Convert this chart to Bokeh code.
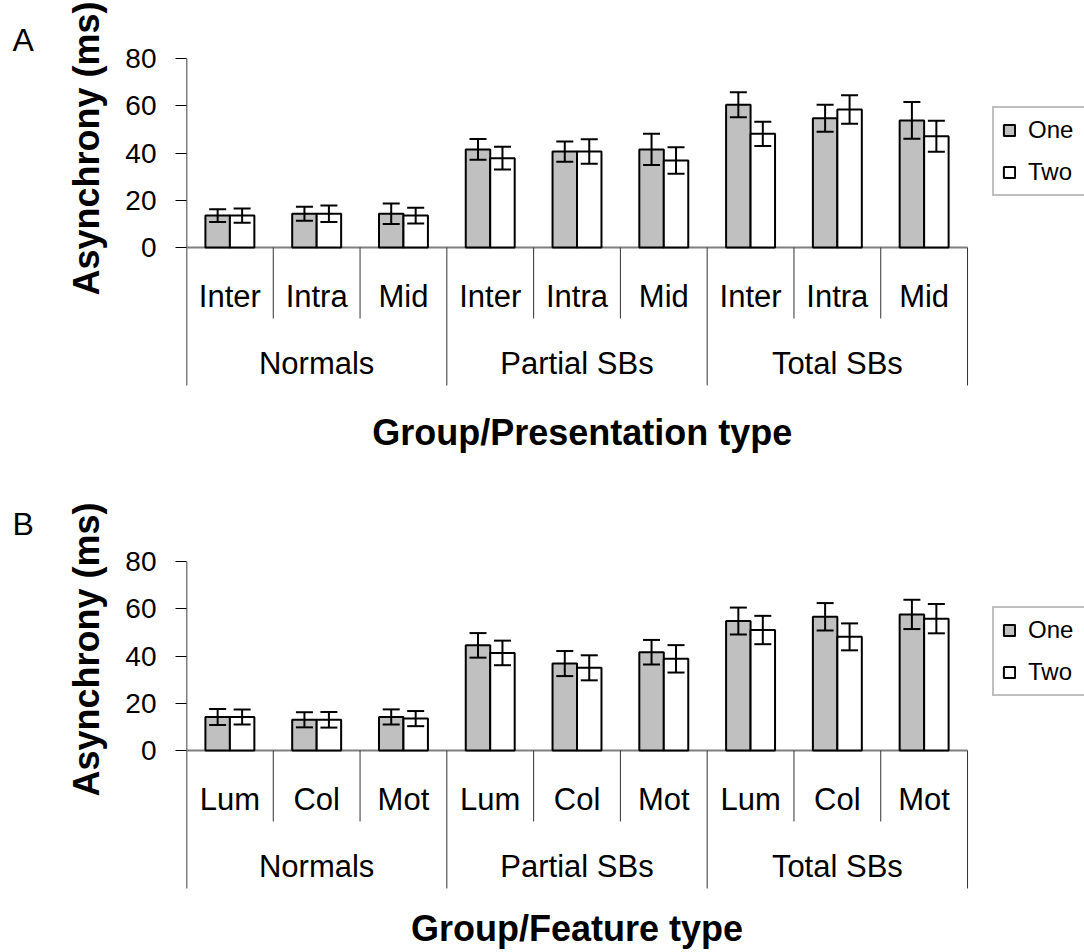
from bokeh.plotting import figure
from bokeh.models import (ColumnDataSource, Range1d, FixedTicker, Whisker, TeeHead,
                          Legend, LegendItem)
from bokeh.layouts import column, row
from bokeh.embed import file_html
from bokeh.resources import INLINE
from bokeh.core.properties import value

# ---------------- data ----------------
groups = ["Normals", "Partial SBs", "Total SBs"]
y_ticks = [0, 20, 40, 60, 80]
series_names = ["One", "Two"]
y_title = "Asynchrony (ms)"

a_types = ["Inter", "Intra", "Mid"]
a_one = [13.5, 14.3, 14.3, 41.5, 40.6, 41.5, 60.4, 54.7, 53.8]
a_one_err = [2.7, 3.0, 4.3, 4.4, 4.3, 6.6, 5.3, 5.7, 7.8]
a_two = [13.5, 14.3, 13.5, 37.8, 40.6, 36.8, 48.1, 58.4, 47.1]
a_two_err = [3.0, 3.5, 3.3, 4.8, 5.2, 5.6, 5.1, 6.0, 6.6]

b_types = ["Lum", "Col", "Mot"]
b_one = [14.2, 13.0, 14.2, 44.5, 36.8, 41.6, 54.8, 56.6, 57.6]
b_one_err = [3.4, 3.2, 3.2, 5.2, 5.3, 5.2, 5.7, 5.8, 6.2]
b_two = [14.2, 13.0, 13.5, 41.3, 35.0, 38.8, 51.0, 48.1, 55.8]
b_two_err = [3.2, 3.3, 3.2, 5.2, 5.3, 5.8, 6.0, 5.7, 6.2]

# ---------------- style / geometry ----------------
FONT = "Liberation Sans"
W, H = 1084, 952
PANEL_H = 476
LEFT_W = 120          # strip holding panel letters and y titles
AXIS_X = 186          # page x of the y axis
UNIT = 86.78          # px per category
SCALE = 2.3625        # px per ms
Y_MAX_AX = 80
Y_MIN_AX = -58.4      # bottom of the group separators
BAR_W = 0.282
OFF = 0.141


def panel(types, one, one_err, two, two_err, xtitle, zero_y, title_x, title_y, legend_bottom):
    # zero_y: pixel row of the value 0 inside this panel figure
    y_top = zero_y / SCALE
    y_bot = -(PANEL_H - zero_y) / SCALE
    p = figure(width=W - LEFT_W, height=PANEL_H, output_backend="svg", toolbar_location=None,
               x_range=Range1d(0, (W - AXIS_X) / UNIT), y_range=Range1d(y_bot, y_top),
               min_border_left=AXIS_X - LEFT_W, min_border_right=0,
               min_border_top=0, min_border_bottom=0, x_axis_location=None)
    p.grid.visible = False
    p.outline_line_color = None
    p.background_fill_color = "white"
    p.border_fill_color = "white"

    ax = p.yaxis[0]
    ax.ticker = FixedTicker(ticks=y_ticks)
    ax.minor_tick_line_color = None
    ax.major_tick_in = 0
    ax.major_tick_out = 11
    ax.major_tick_line_color = "black"
    ax.axis_line_color = None
    ax.major_label_text_font = FONT
    ax.major_label_text_font_size = "28px"
    ax.major_label_text_color = "black"
    ax.major_label_standoff = 19

    n_sub = len(types)
    n = len(groups) * n_sub
    centers = [i + 0.5 for i in range(n)]
    subs = [types[i % n_sub] for i in range(n)]
    gcenters = [g * n_sub + n_sub / 2 for g in range(len(groups))]

    # axis line (value axis) running down through the category area
    p.segment(x0=[0], y0=[Y_MAX_AX], x1=[0], y1=[Y_MIN_AX], line_color="black", line_width=1.5)
    # baseline
    p.segment(x0=[0], y0=[0], x1=[n], y1=[0], line_color="#7f7f7f", line_width=2)
    # separators below the axis
    xs = list(range(1, n + 1))
    y_end = [Y_MIN_AX if k % n_sub == 0 else -30.05 for k in xs]
    p.segment(x0=xs, y0=[0] * len(xs), x1=xs, y1=y_end, line_color="#333333", line_width=1)

    src = ColumnDataSource(dict(
        x1=[c - OFF for c in centers], x2=[c + OFF for c in centers],
        one=one, two=two,
        one_lo=[v - e for v, e in zip(one, one_err)], one_hi=[v + e for v, e in zip(one, one_err)],
        two_lo=[v - e for v, e in zip(two, two_err)], two_hi=[v + e for v, e in zip(two, two_err)],
    ))
    r1 = p.vbar(x="x1", top="one", bottom=0, width=BAR_W, source=src,
                fill_color="#C0C0C0", line_color="black", line_width=2)
    r2 = p.vbar(x="x2", top="two", bottom=0, width=BAR_W, source=src,
                fill_color="white", line_color="black", line_width=2)

    for base, lo, hi in (("x1", "one_lo", "one_hi"), ("x2", "two_lo", "two_hi")):
        w = Whisker(source=src, base=base, lower=lo, upper=hi, level="overlay",
                    line_color="black", line_width=2,
                    upper_head=TeeHead(size=17, line_width=2, line_color="black"),
                    lower_head=TeeHead(size=17, line_width=2, line_color="black"))
        p.add_layout(w)

    # category labels
    p.text(x=centers, y=[-20.6] * n, text=subs, text_font=value(FONT), text_font_size="31px",
           text_align="center", text_baseline="middle", text_color="black")
    p.text(x=gcenters, y=[-49.0] * len(groups), text=groups, text_font=value(FONT),
           text_font_size="31px", text_align="center", text_baseline="middle",
           text_color="black")

    # x title
    p.text(x=[title_x], y=[title_y], text=[xtitle], text_font=value(FONT), text_font_size="36px",
           text_font_style="bold", text_align="center", text_baseline="middle",
           text_color="black")

    legend = Legend(items=[LegendItem(label=series_names[0], renderers=[r1]),
                           LegendItem(label=series_names[1], renderers=[r2])],
                    location=(992 - AXIS_X, legend_bottom), orientation="vertical",
                    label_text_font=FONT, label_text_font_size="24px",
                    label_text_color="black",
                    label_height=24, label_width=64, glyph_width=14, glyph_height=14,
                    label_standoff=12, padding=8, spacing=14, margin=0,
                    border_line_color="#808080", border_line_width=2,
                    background_fill_color="white", background_fill_alpha=1)
    p.add_layout(legend)
    return p


pa = panel(a_types, a_one, a_one_err, a_two, a_two_err, "Group/Presentation type",
           247, 4.56, -78.3, PANEL_H - 196)
pb = panel(b_types, b_one, b_one_err, b_two, b_two_err, "Group/Feature type",
           750 - PANEL_H, 4.5, -75.3, PANEL_H - (696 - PANEL_H))

# left strip: panel letters and rotated value-axis titles (page pixel coordinates)
left = figure(width=LEFT_W, height=H, output_backend="svg", toolbar_location=None,
              x_range=Range1d(0, LEFT_W), y_range=Range1d(H, 0),
              min_border=0, x_axis_location=None, y_axis_location=None)
left.grid.visible = False
left.outline_line_color = None
left.text(x=[12, 12], y=[39, 523], text=["A", "B"], text_font=value(FONT),
          text_font_size="32px", text_align="left", text_baseline="middle",
          text_color="black")
left.text(x=[86, 86], y=[148, 649], text=[y_title, y_title], angle=1.5708,
          text_font=value(FONT), text_font_size="36px", text_font_style="bold",
          text_align="center", text_baseline="middle", text_color="black")

layout = row(left, column(pa, pb, spacing=0), spacing=0)
open("out.html", "w").write(file_html(layout, INLINE))
